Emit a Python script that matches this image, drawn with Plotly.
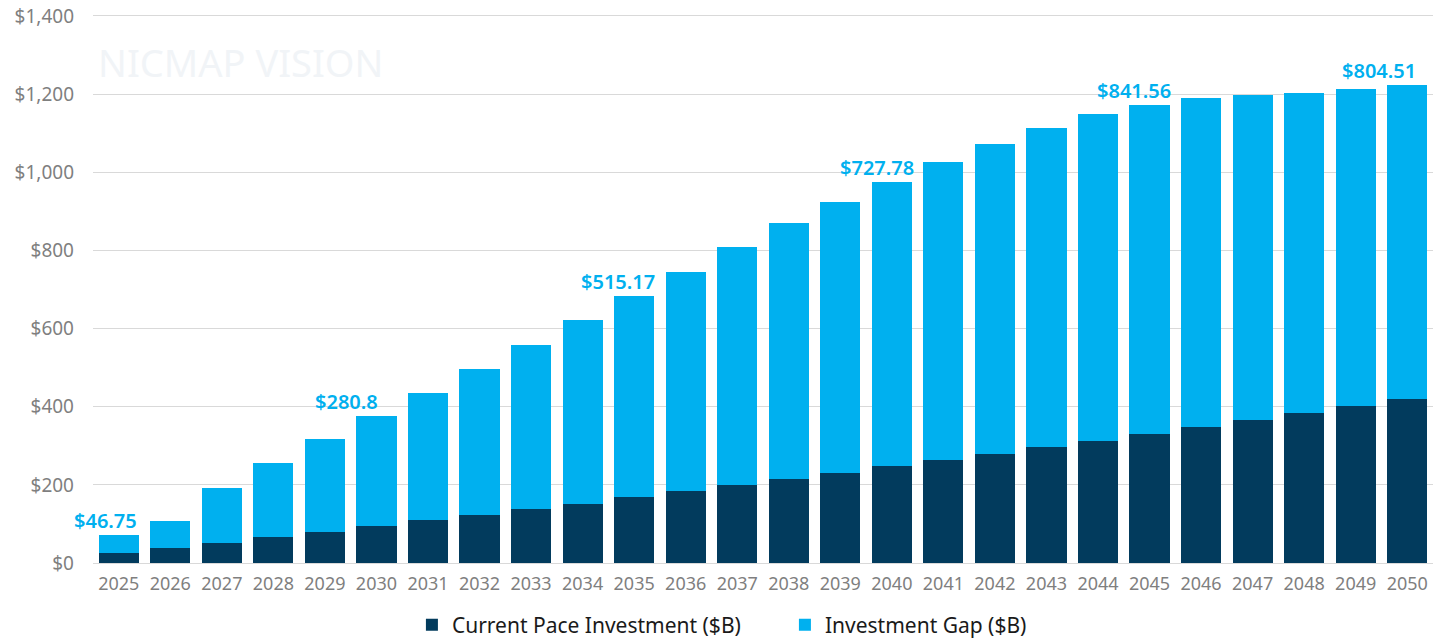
import plotly.graph_objects as go

years = [str(y) for y in range(2025, 2051)]
current_pace = [25, 38, 52, 66, 80, 95, 109, 123, 137, 152, 168, 184, 199, 214, 230,
                247, 263, 280, 297, 313, 331, 348, 365, 383, 401, 420]
investment_gap = [46.75, 69, 139, 190, 237, 280.8, 327, 374, 421, 470, 515.17, 561, 610,
                  655, 694, 727.78, 764, 793, 816, 835, 841.56, 841, 832, 820, 812, 804.51]
label_years = ["2025", "2030", "2035", "2040", "2045", "2050"]
y_ticks = [0, 200, 400, 600, 800, 1000, 1200, 1400]
y_tick_text = ["$" + f"{v:,}" for v in y_ticks]

DARK = "#023b5d"
LIGHT = "#00b0ef"
FONT = "Noto Sans"

fig = go.Figure()
fig.add_trace(go.Bar(x=years, y=current_pace, name="Current Pace Investment ($B)",
                     marker=dict(color=DARK, line=dict(width=0))))
fig.add_trace(go.Bar(x=years, y=investment_gap, name="Investment Gap ($B)",
                     marker=dict(color=LIGHT, line=dict(width=0))))

# horizontal nudges of the value labels (styling only)
label_nudge = [-13, -30, -16, -15, -16, -28]
for yr, dx in zip(label_years, label_nudge):
    i = years.index(yr)
    total = current_pace[i] + investment_gap[i]
    g = investment_gap[i]
    txt = "$" + f"{g:.2f}".rstrip("0").rstrip(".")
    fig.add_annotation(x=i, y=total, text=txt, showarrow=False, xanchor="center",
                       yanchor="bottom", yshift=-1, xshift=dx,
                       font=dict(family=FONT, size=20, color=LIGHT, weight=600))

# faint watermark
fig.add_annotation(xref="paper", yref="paper", x=0.002, y=0.912, xanchor="left", yanchor="middle",
                   text="NICMAP VISION", showarrow=False,
                   font=dict(family=FONT, size=38, color="#f1f4f7"))

fig.update_layout(
    barmode="stack",
    bargap=0.22,
    width=1433, height=639,
    margin=dict(l=93, r=0, t=14, b=76, autoexpand=False),
    paper_bgcolor="white", plot_bgcolor="white",
    font=dict(family=FONT, color="#7f7f7f"),
    showlegend=True,
    legend=dict(orientation="h", x=0.238, xanchor="left", y=-0.113, yanchor="middle",
                font=dict(family=FONT, size=21, color="#1a1a1a"), traceorder="normal",
                itemwidth=30, entrywidth=328, entrywidthmode="pixels"),
    xaxis=dict(type="category", categoryorder="array", categoryarray=years,
               range=[-0.5, len(years) - 0.5], autorange=False,
               showgrid=False, showline=False, ticks="", automargin=False,
               ticklabelstandoff=8, ticklabeloverflow="allow",
               tickfont=dict(family=FONT, size=18, color="#7f7f7f")),
    yaxis=dict(range=[0, 1405], tickvals=y_ticks, ticktext=y_tick_text, automargin=False,
               showgrid=True, gridcolor="#d9d9d9", gridwidth=1,
               zeroline=True, zerolinecolor="#d9d9d9", zerolinewidth=1,
               ticks="", ticklabelstandoff=18, ticklabeloverflow="allow",
               tickfont=dict(family=FONT, size=19, color="#7f7f7f")),
)

fig.write_html("out.html", config={"displayModeBar": False},
               post_script="document.body.style.margin='0';")
